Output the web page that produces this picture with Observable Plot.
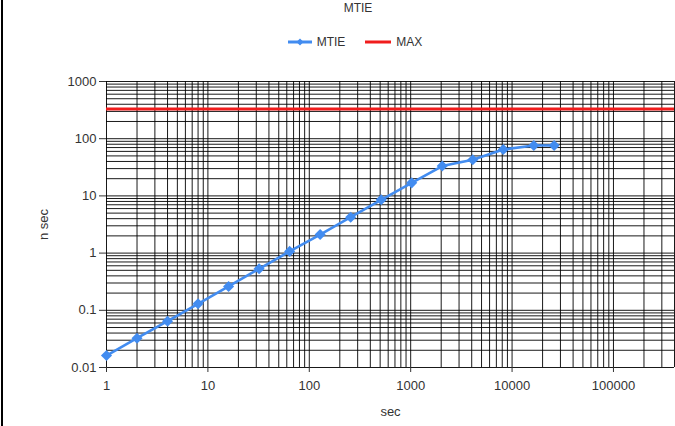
<!DOCTYPE html>
<html>
<head>
<meta charset="utf-8">
<script src="https://cdn.jsdelivr.net/npm/d3@7"></script>
<script src="https://cdn.jsdelivr.net/npm/@observablehq/plot@0.6"></script>
<style>
  html, body { margin: 0; padding: 0; background: #fff; }
  body { width: 675px; height: 426px; overflow: hidden; position: relative; font-family: "Liberation Sans", "DejaVu Sans", sans-serif; color: #333; }
  #frameLeft { position: absolute; left: 1px; top: 0; width: 2px; height: 426px; background: #000; }
  #title { height: 16px; line-height: 16px; font-size: 12px; text-align: center; padding-left: 41px; }
  #legend { margin-top: 18px; height: 16px; line-height: 16px; font-size: 12px; display: flex; justify-content: center; align-items: center; padding-left: 35px; gap: 0; }
  #legend .item { display: flex; align-items: center; margin: 0 10px; }
  #legend svg { margin-right: 5px; }
  #chart svg { display: block; }
</style>
</head>
<body>
<div id="frameLeft"></div>
<div id="title">MTIE</div>
<div id="legend"></div>
<div id="chart"></div>
<script>
// ---- data ----
const seriesNames = ["MTIE", "MAX"];
const seriesColors = ["#428cf0", "#f01c1c"];
const tau = [1, 2, 4, 8, 16, 32, 64, 128, 256, 512, 1024, 2048, 4096, 8192, 16384, 26000];
const mtieNs = [0.0162, 0.0325, 0.0645, 0.130, 0.261, 0.532, 1.07, 2.11, 4.24, 8.55, 16.9, 33.3, 42.8, 64.8, 76.0, 76.0];
const maxNs = 330;
const xMajorTicks = [1, 10, 100, 1000, 10000, 100000];
const yMajorTicks = [0.01, 0.1, 1, 10, 100, 1000];
const xDomain = [1, 400000];
const yDomain = [0.01, 1000];

// ---- derived ----
const data = tau.map((t, i) => ({tau: t, ns: mtieNs[i]}));
const mult = [1, 2, 3, 4, 5, 6, 7, 8, 9];
const xGrid = xMajorTicks.flatMap(d => mult.map(k => +(k * d).toPrecision(6))).filter(v => v <= xDomain[1] * 1.0001);
const yGrid = yMajorTicks.flatMap(d => mult.map(k => +(k * d).toPrecision(6))).filter(v => v <= yDomain[1] * 1.0001);

// legend
const legend = document.getElementById("legend");
legend.innerHTML = `
  <span class="item"><svg width="24" height="10"><line x1="0" y1="5" x2="24" y2="5" stroke="${seriesColors[0]}" stroke-width="3"/><rect x="9.5" y="2.5" width="5" height="5" fill="${seriesColors[0]}" transform="rotate(45 12 5)"/></svg>${seriesNames[0]}</span>
  <span class="item"><svg width="26" height="10"><line x1="0" y1="5" x2="26" y2="5" stroke="${seriesColors[1]}" stroke-width="3"/></svg>${seriesNames[1]}</span>`;

const svgTop = 50;
const plot = Plot.plot({
  width: 675,
  height: 426 - svgTop,
  marginTop: 81 - svgTop,
  marginBottom: 426 - 367,
  marginLeft: 106,
  marginRight: 1,
  style: {fontFamily: "Liberation Sans, DejaVu Sans, sans-serif", fontSize: "13px", color: "#333", background: "#fff"},
  x: {type: "log", domain: xDomain},
  y: {type: "log", domain: yDomain},
  marks: [
    Plot.ruleX(xGrid, {stroke: "#000", strokeWidth: 1, strokeOpacity: 0.9}),
    Plot.ruleY(yGrid, {stroke: "#000", strokeWidth: 1, strokeOpacity: 0.9}),
    Plot.axisX(xMajorTicks, {tickSize: 5, tickPadding: 8, tickFormat: d => String(d), label: "sec", labelAnchor: "center", labelArrow: "none", labelOffset: 48, stroke: "#333"}),
    Plot.axisY(yMajorTicks, {tickSize: 7, tickPadding: 3, tickFormat: d => String(d), label: "n sec", labelAnchor: "center", labelArrow: "none", labelOffset: 68, stroke: "#333"}),
    Plot.ruleY([maxNs], {stroke: seriesColors[1], strokeWidth: 3}),
    Plot.line(data, {x: "tau", y: "ns", stroke: seriesColors[0], strokeWidth: 2.6}),
    Plot.dot(data, {x: "tau", y: "ns", symbol: "diamond2", r: 5, fill: seriesColors[0], stroke: "none"})
  ]
});
document.getElementById("chart").appendChild(plot);
</script>
</body>
</html>
